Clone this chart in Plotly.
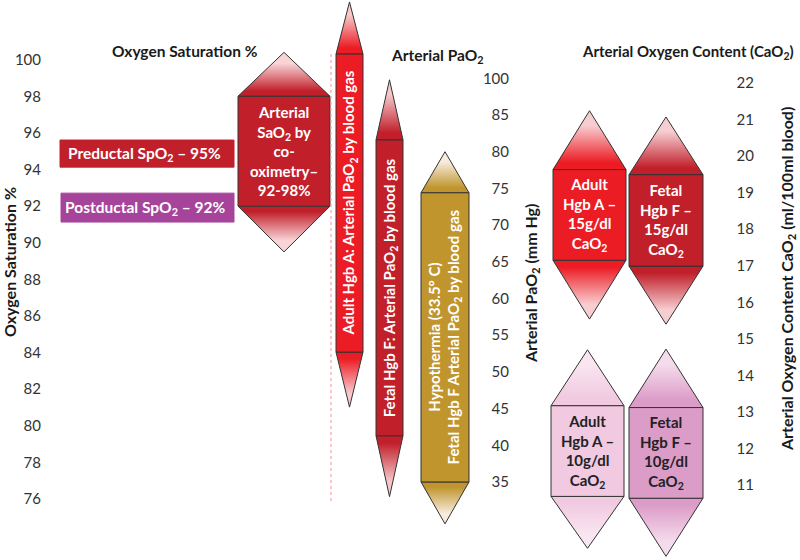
import plotly.graph_objects as go

# ---------------- data ----------------
sat_ticks = [76, 78, 80, 82, 84, 86, 88, 90, 92, 94, 96, 98, 100]
pao2_tick_pos = [35, 40, 45, 50, 55, 60, 65, 70, 75, 80, 85, 90]
pao2_tick_labels = ["35", "40", "45", "50", "55", "60", "65", "70", "75", "80", "85", "100"]
cao2_ticks = [11, 12, 13, 14, 15, 16, 17, 18, 19, 20, 21, 22]

spo2_labels = ["Preductal SpO<sub>2</sub> – 95%", "Postductal SpO<sub>2</sub> – 92%"]
spo2_low = [94.13, 91.13]
spo2_high = [95.61, 92.71]

sao2_label = "Arterial<br>SaO<sub>2</sub> by<br>co-<br>oximetry–<br>92-98%"
sao2_low = 92.0
sao2_high = 98.0
sao2_tip_low = 89.5
sao2_tip_high = 100.4

pao2_labels = [
    "Adult Hgb A: Arterial PaO<sub>2</sub> by blood gas",
    "Fetal Hgb F: Arterial PaO<sub>2</sub> by blood gas",
    "Hypothermia (33.5° C)<br>Fetal Hgb F Arterial PaO<sub>2</sub> by blood gas",
]
pao2_low = [52.7, 41.3, 35.0]
pao2_high = [93.3, 81.6, 74.4]
pao2_tip_low = [45.2, 33.0, 29.3]
pao2_tip_high = [100.4, 89.8, 80.0]
dotted_range = [32.4, 93.3]

cao2_labels = [
    "Adult<br>Hgb A –<br>15g/dl<br>CaO<sub>2</sub>",
    "Fetal<br>Hgb F –<br>15g/dl<br>CaO<sub>2</sub>",
    "Adult<br>Hgb A –<br>10g/dl<br>CaO<sub>2</sub>",
    "Fetal<br>Hgb F –<br>10g/dl<br>CaO<sub>2</sub>",
]
cao2_low = [17.15, 16.99, 10.69, 10.64]
cao2_high = [19.63, 19.49, 13.17, 13.12]
cao2_tip_low = [15.54, 15.40, 9.27, 9.05]
cao2_tip_high = [21.24, 21.07, 14.70, 14.72]

# ---------------- layout / style ----------------
W, H = 800, 560
FONT = "Lato"
EDGE = "#333333"
spo2_x = [(60, 234), (61, 234)]
spo2_colors = ["#c1202b", "#a6449b"]
sao2_x = (238, 330)
sao2_style = ("#c1202b", "#f8d4d6", "white")
pao2_x = [(336, 363), (376, 403), (421, 469)]
pao2_styles = [("#ec1c24", "#f8c8cb", "white"),
               ("#c1202b", "#f6c6c9", "white"),
               ("#c0952e", "#f7ebdc", "white")]
cao2_x = [(553, 626), (629, 703), (551, 624), (629, 703)]
cao2_styles = [("#ec1c24", "#f8cdd0", "white"),
               ("#c1202b", "#f6cdd0", "white"),
               ("#f1c9e1", "#f9e6f0", "#222222"),
               ("#dc9cc8", "#f5dcec", "#222222")]

fig = go.Figure()


def add_column(x0, x1, lo, hi, tlo, thi, yax, base, pale):
    xc = (x0 + x1) / 2
    fig.add_trace(go.Scatter(
        x=[x0, xc, x1, x0], y=[hi, thi, hi, hi], yaxis=yax, mode="lines",
        fill="toself", line=dict(color=EDGE, width=1),
        fillgradient=dict(type="vertical",
                          colorscale=[[0, base], [0.12, base], [0.75, pale], [1, pale]]),
        hoverinfo="skip", showlegend=False))
    fig.add_trace(go.Scatter(
        x=[x0, xc, x1, x0], y=[lo, tlo, lo, lo], yaxis=yax, mode="lines",
        fill="toself", line=dict(color=EDGE, width=1),
        fillgradient=dict(type="vertical",
                          colorscale=[[0, pale], [0.25, pale], [0.88, base], [1, base]]),
        hoverinfo="skip", showlegend=False))
    fig.add_trace(go.Scatter(
        x=[x0, x1, x1, x0, x0], y=[lo, lo, hi, hi, lo], yaxis=yax, mode="lines",
        fill="toself", fillcolor=base, line=dict(color=EDGE, width=1),
        hoverinfo="skip", showlegend=False))


# dotted marker line
fig.add_shape(type="line", xref="x", yref="y2", x0=331, x1=331,
              y0=dotted_range[0], y1=dotted_range[1],
              line=dict(color="#f4a3aa", width=1.2, dash="dot"))

# SpO2 bars
for (x0, x1), lo, hi, col, lab in zip(spo2_x, spo2_low, spo2_high, spo2_colors, spo2_labels):
    fig.add_trace(go.Scatter(
        x=[x0, x1, x1, x0, x0], y=[lo, lo, hi, hi, lo], yaxis="y", mode="lines",
        fill="toself", fillcolor=col, line=dict(color=col, width=1),
        hoverinfo="skip", showlegend=False))
    fig.add_annotation(x=(x0 + x1) / 2 - 3, y=(lo + hi) / 2, xref="x", yref="y",
                       text="<b>" + lab + "</b>", showarrow=False,
                       font=dict(family=FONT, size=15.5, color="white"))

# SaO2 hexagon
add_column(sao2_x[0], sao2_x[1], sao2_low, sao2_high, sao2_tip_low, sao2_tip_high,
           "y", sao2_style[0], sao2_style[1])
fig.add_annotation(x=sum(sao2_x) / 2, y=(sao2_low + sao2_high) / 2, xref="x", yref="y",
                   text="<b>" + sao2_label + "</b>", showarrow=False,
                   font=dict(family=FONT, size=15, color=sao2_style[2]))

# PaO2 columns
for (x0, x1), lo, hi, tlo, thi, st, lab in zip(pao2_x, pao2_low, pao2_high,
                                               pao2_tip_low, pao2_tip_high,
                                               pao2_styles, pao2_labels):
    add_column(x0, x1, lo, hi, tlo, thi, "y2", st[0], st[1])
    fig.add_annotation(x=(x0 + x1) / 2, y=(lo + hi) / 2, xref="x", yref="y2",
                       text="<b>" + lab + "</b>", showarrow=False, textangle=-90,
                       font=dict(family=FONT, size=15, color=st[2]))

# CaO2 columns
for (x0, x1), lo, hi, tlo, thi, st, lab in zip(cao2_x, cao2_low, cao2_high,
                                               cao2_tip_low, cao2_tip_high,
                                               cao2_styles, cao2_labels):
    add_column(x0, x1, lo, hi, tlo, thi, "y3", st[0], st[1])
    fig.add_annotation(x=(x0 + x1) / 2, y=(lo + hi) / 2, xref="x", yref="y3",
                       text="<b>" + lab + "</b>", showarrow=False,
                       font=dict(family=FONT, size=15, color=st[2]))


def py(p):
    return 1 - p / H


# headers and axis titles
for txt, x, y, ang, size in [
    ("Oxygen Saturation %", 185, 40, 0, 15.5),
    ("Arterial PaO<sub>2</sub>", 437, 44, 0, 15.5),
    ("Arterial Oxygen Content (CaO<sub>2</sub>)", 688, 40, 0, 15),
    ("Oxygen Saturation %", 9, 262, -90, 16),
    ("Arterial PaO<sub>2</sub> (mm Hg)", 531, 284, -90, 16),
    ("Arterial Oxygen Content CaO<sub>2</sub> (ml/100ml blood)", 787, 279, -90, 16),
]:
    fig.add_annotation(x=x, y=py(y), xref="x", yref="paper", text="<b>" + txt + "</b>",
                       showarrow=False, textangle=ang,
                       font=dict(family=FONT, size=size, color="#1a1a1a"))

tickfont = dict(family=FONT, size=15, color="#333333")
common = dict(showgrid=False, zeroline=False, showline=False, ticks="",
              tickfont=tickfont, fixedrange=True)

fig.update_layout(
    width=W, height=H, autosize=False,
    margin=dict(l=0, r=0, t=0, b=0),
    paper_bgcolor="white", plot_bgcolor="white",
    font=dict(family=FONT),
    xaxis=dict(range=[0, W], visible=False, fixedrange=True),
    yaxis=dict(range=[72.67, 103.26], tickvals=sat_ticks, anchor="free",
               position=41 / W, side="left", **common),
    yaxis2=dict(range=[24.37, 100.67], tickvals=pao2_tick_pos, ticktext=pao2_tick_labels,
                overlaying="y", anchor="free", position=509 / W, side="left", **common),
    yaxis3=dict(range=[8.95, 24.27], tickvals=cao2_ticks, overlaying="y",
                anchor="free", position=754 / W, side="left", **common),
)

fig.write_html("out.html", config={"displayModeBar": False},
               post_script="document.body.style.margin='0';")
